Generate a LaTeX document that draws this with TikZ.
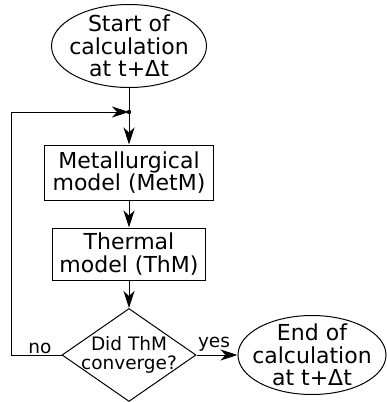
\documentclass[tikz,border=0pt]{standalone}
\usepackage{fontspec}
\setmainfont{DejaVu Sans}
\usetikzlibrary{shapes.geometric}
\usetikzlibrary{arrows.meta}
\tikzset{
    termnode/.style = {ellipse, line width=1pt, draw=black, align=center, inner xsep=-20pt, inner ysep=-10pt, font=\fontsize{22}{22.5}\selectfont},
    procnode/.style = {rectangle, line width=1pt, draw=black, align=center, inner sep=0pt, font=\fontsize{22}{22.5}\selectfont},
    decnode/.style = {diamond, line width=1pt, draw=black, align=center, inner sep=-15pt, font=\fontsize{18.5}{19}\selectfont},
    lblnode/.style = {anchor=base, inner sep=0pt, font=\fontsize{18.5}{20}\selectfont},
    edgen/.style = {-, line width=1pt, black},
    edgea/.style = {-{Stealth[length=17pt,width=11pt,inset=5pt]}, line width=1pt, black}
}

\begin{document}
\begin{tikzpicture}[x=1pt,y=-1pt]
  \useasboundingbox (0,0) rectangle (386,402);
  \node (start) at (129,46) [termnode, minimum width=155pt, minimum height=83pt] {Start of\\calculation\\at t+Δt};
  \coordinate (join) at (129,112);
  \node (metm) at (129,172.5) [procnode, minimum width=169pt, minimum height=55pt] {Metallurgical\\model (MetM)};
  \node (thm) at (129,254) [procnode, minimum width=153pt, minimum height=52pt] {Thermal\\model (ThM)};
  \node (conv) at (129,355) [decnode, minimum width=134pt, minimum height=93pt] {Did ThM\\converge?};
  \node (stop) at (312,355) [termnode, minimum width=148pt, minimum height=79pt] {End of\\calculation\\at t+Δt};
  \coordinate (lowleft) at (11,355);
  \coordinate (upleft) at (11,112);
  \node (nolbl) at (40,353) [lblnode] {no};
  \node (yeslbl) at (214,347) [lblnode] {yes};
  % flow
  \draw[edgen] (start.south) -- (join);
  \fill (join) circle (2.2pt);
  \draw[edgea] (join) -- (metm.north);
  \draw[edgea] (metm.south) -- (thm.north);
  \draw[edgea] (thm.south) -- (conv.north);
  \draw[edgea] (conv.east) -- (stop.west);
  % loop back
  \draw[edgen] (conv.west) -- (lowleft) -- (upleft);
  \draw[edgea] (upleft) -- (join);
\end{tikzpicture}
\end{document}
